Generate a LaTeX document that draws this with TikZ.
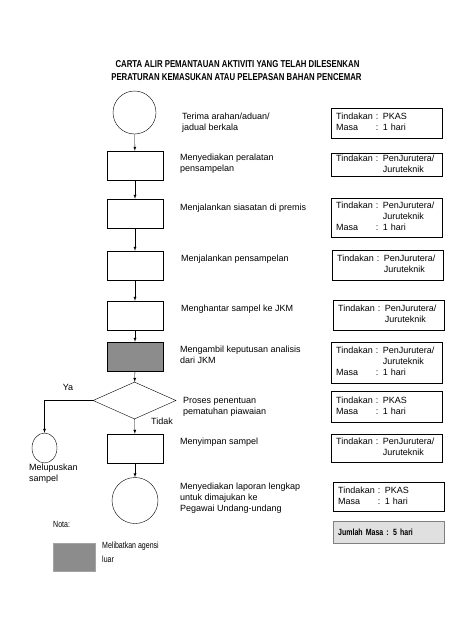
\documentclass[tikz,border=0pt]{standalone}
\usepackage{fontspec}
\setmainfont{Liberation Sans}
\newfontfamily\tajukfont[FakeStretch=0.78]{Liberation Sans}
\usetikzlibrary{shapes.geometric}
\definecolor{agensi}{gray}{0.55}
\definecolor{jumlah}{gray}{0.88}
\tikzset{
  proses/.style={draw, minimum width=56pt, minimum height=29pt, inner sep=0pt},
  bulat/.style={draw, circle, minimum size=#1, inner sep=0pt},
  keputusan/.style={draw, diamond, minimum width=83pt, minimum height=37pt, inner sep=0pt},
  huraian/.style={anchor=west, align=left, inner sep=0pt, font=\fontsize{9}{11}\selectfont},
  tajuk/.style={inner sep=0pt, font=\tajukfont\bfseries\fontsize{10}{12}\selectfont},
  tindakan/.style={draw, anchor=north west, minimum width=111pt, minimum height=#1, inner xsep=5pt,
    inner ysep=0pt, text width=101pt, align=left, font=\fontsize{9}{11}\selectfont},
  anak/.style={-latex, thin}
}
\newcommand{\pkas}{\begin{tabular}{@{}l@{ }l@{ }l}Tindakan & : & PKAS\\ Masa & : & 1 hari\end{tabular}}
\newcommand{\penj}{\begin{tabular}{@{}l@{ }l@{ }l}Tindakan & : & PenJurutera/\\ & & Juruteknik\end{tabular}}
\newcommand{\penjm}{\begin{tabular}{@{}l@{ }l@{ }l}Tindakan & : & PenJurutera/\\ & & Juruteknik\\ Masa & : & 1 hari\end{tabular}}
\begin{document}
\begin{tikzpicture}[x=1pt,y=-1pt]
  \useasboundingbox (0,0) rectangle (474,632);
  % Tajuk
  \node[tajuk] (tajuk1) at (237.5,64) {CARTA ALIR PEMANTAUAN AKTIVITI YANG TELAH DILESENKAN};
  \node[tajuk] (tajuk2) at (236.5,77) {PERATURAN KEMASUKAN ATAU PELEPASAN BAHAN PENCEMAR};
  % Carta alir
  \node[bulat=43pt] (mula) at (134.5,112.5) {};
  \node[proses] (alat) at (135,165.5) {};
  \node[proses] (siasat) at (135,213.5) {};
  \node[proses] (sampel) at (135,265.5) {};
  \node[proses] (hantar) at (135,315.5) {};
  \node[proses, fill=agensi] (ambil) at (135,356.5) {};
  \node[keputusan] (proses) at (134.5,400.5) {};
  \node[proses] (simpan) at (135,448.5) {};
  \node[bulat=46pt] (laporan) at (135,500.5) {};
  \node[draw, ellipse, minimum width=25pt, minimum height=30pt, inner sep=0pt] (lupus) at (44.5,448) {};
  % Anak panah
  \draw[anak] (mula) -- (alat);
  \draw[anak] (alat) -- (siasat);
  \draw[anak] (siasat) -- (sampel);
  \draw[anak] (sampel) -- (hantar);
  \draw[anak] (hantar) -- (ambil);
  \draw[anak] (ambil) -- (proses);
  \draw[anak] (proses) -- (simpan);
  \draw[anak] (simpan) -- (laporan);
  \draw[anak] (proses.west) -| (lupus.north);
  \node[font=\fontsize{9}{11}\selectfont] (ya) at (68,387) {Ya};
  \node[font=\fontsize{9}{11}\selectfont] (tidak) at (162,421) {Tidak};
  \node[huraian] (lupusteks) at (29,473.5) {Melupuskan\\sampel};
  % Huraian
  \node[huraian] (h1) at (182,122.5) {Terima arahan/aduan/\\jadual berkala};
  \node[huraian] (h2) at (180,164) {Menyediakan peralatan\\pensampelan};
  \node[huraian] (h3) at (180,208) {Menjalankan siasatan di premis};
  \node[huraian] (h4) at (181,259) {Menjalankan pensampelan};
  \node[huraian] (h5) at (181,309) {Menghantar sampel ke JKM};
  \node[huraian] (h6) at (180,354.5) {Mengambil keputusan analisis\\dari JKM};
  \node[huraian] (h7) at (183,407) {Proses penentuan\\pematuhan piawaian};
  \node[huraian] (h8) at (180,442) {Menyimpan sampel};
  \node[huraian] (h9) at (180,498) {Menyediakan laporan lengkap\\untuk dimajukan ke\\Pegawai Undang-undang};
  % Tindakan
  \node[tindakan=30pt] (t1) at (331,108) {\pkas};
  \node[tindakan=23pt] (t2) at (331,153) {\penj};
  \node[tindakan=39pt] (t3) at (331,198) {\penjm};
  \node[tindakan=30pt] (t4) at (332,250) {\penj};
  \node[tindakan=30pt] (t5) at (333,300) {\penj};
  \node[tindakan=41pt] (t6) at (331,342) {\penjm};
  \node[tindakan=31pt] (t7) at (331,391) {\pkas};
  \node[tindakan=28pt] (t8) at (331,434) {\penj};
  \node[tindakan=29pt] (t9) at (333,482) {\pkas};
  \node[tindakan=22pt, fill=jumlah, draw=gray, font=\tajukfont\bfseries\fontsize{9}{11}\selectfont] (jumlah) at (333,521)
    {Jumlah Masa : 5 hari};
  % Nota
  \node[anchor=west, inner sep=0pt, font=\tajukfont\fontsize{9}{11}\selectfont] (nota) at (53,524) {Nota:};
  \node[fill=agensi, draw=agensi!80, minimum width=42pt, minimum height=28pt, anchor=north west] (petak) at (53,543) {};
  \node[anchor=west, inner sep=0pt, font=\tajukfont\fontsize{9}{11}\selectfont] (agensi1) at (102,546) {Melibatkan agensi};
  \node[anchor=west, inner sep=0pt, font=\tajukfont\fontsize{9}{11}\selectfont] (agensi2) at (102,559) {luar};
\end{tikzpicture}
\end{document}
